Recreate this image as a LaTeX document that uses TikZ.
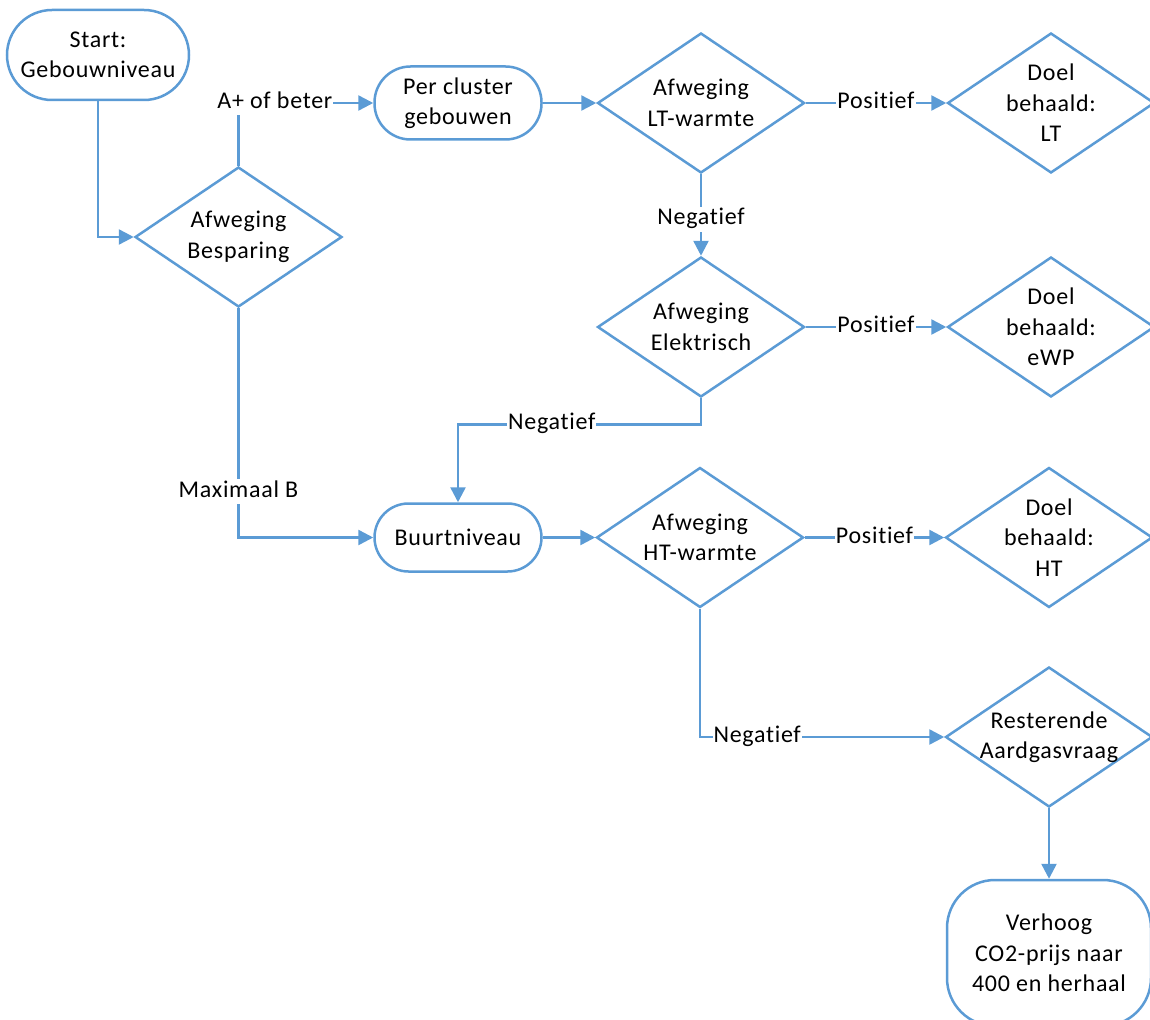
\documentclass[tikz,border=0pt]{standalone}
\usepackage{fontspec}
\setmainfont{Carlito}[Ligatures=NoCommon, LetterSpace=3]
\usetikzlibrary{shapes.geometric,arrows.meta}
\definecolor{flowblue}{RGB}{91,155,213}
\begin{document}
\begin{tikzpicture}[x=1pt,y=-1pt,
  every node/.style={font=\fontsize{24}{30.5}\selectfont},
  line/.style={draw=flowblue, line width=2.5pt},
  flow/.style={line, -{Triangle[length=15pt,width=15pt]}},
  terminal/.style={draw=flowblue, line width=2.5pt, rectangle, fill=white,
    align=center, inner sep=0pt},
  decision/.style={draw=flowblue, line width=2.5pt, diamond, fill=white,
    minimum width=207pt, minimum height=140pt, inner sep=0pt},
  dtext/.style={align=center, inner sep=0pt},
  tag/.style={fill=white, inner sep=1pt, text height=17pt, text depth=6pt}
]
\useasboundingbox (0,0) rectangle (1150,1019);
\clip (0,0) rectangle (1150,1019);

% terminals
\node[terminal, rounded corners=45pt, minimum width=182pt, minimum height=90pt]
  (start) at (98,55) {Start:\\Gebouwniveau};
\node[terminal, rounded corners=36pt, minimum width=167pt, minimum height=73pt]
  (clus) at (458,103) {Per cluster\\gebouwen};
\node[terminal, rounded corners=34pt, minimum width=167pt, minimum height=68pt]
  (buurt) at (458,537.5) {Buurtniveau};
\node[terminal, rounded corners=48pt, minimum width=204pt, minimum height=146pt]
  (verh) at (1049,953) {Verhoog\\CO2-prijs naar\\400 en herhaal};

% decisions
\node[decision, label={[dtext]center:{Afweging\\Besparing}}] (bes) at (238.5,237) {};
\node[decision, label={[dtext]center:{Afweging\\LT-warmte}}] (lt) at (701,103) {};
\node[decision, label={[dtext]center:{Doel\\behaald:\\LT}}] (dlt) at (1051,103) {};
\node[decision, label={[dtext]center:{Afweging\\Elektrisch}}] (el) at (701,327) {};
\node[decision, label={[dtext]center:{Doel\\behaald:\\eWP}}] (dewp) at (1051,327) {};
\node[decision, label={[dtext]center:{Afweging\\HT-warmte}}] (ht) at (700,537.5) {};
\node[decision, label={[dtext]center:{Doel\\behaald:\\HT}}] (dht) at (1049,537.5) {};
\node[decision, label={[dtext]center:{Resterende\\Aardgasvraag}}] (rest) at (1049,737) {};

% connectors
\draw[flow] (start.south) |- (bes.west);
\draw[flow] (bes.north) |- node[tag, pos=0.635] {A+ of beter} (clus.west);
\draw[flow] (bes.south) |- node[tag, pos=0.4] {Maximaal B} (buurt.west);
\draw[flow] (clus.east) -- (lt.west);
\draw[flow] (lt.east) -- node[tag] {Positief} (dlt.west);
\draw[flow] (lt.south) -- node[tag, pos=0.55] {Negatief} (el.north);
\draw[flow] (el.east) -- node[tag] {Positief} (dewp.west);
\draw[flow] (el.south) -- ++(0,26) -| node[tag, pos=0.307] {Negatief} (buurt.north);
\draw[flow] (buurt.east) -- (ht.west);
\draw[flow] (ht.east) -- node[tag] {Positief} (dht.west);
\draw[flow] (ht.south) |- node[tag, pos=0.617] {Negatief} (rest.west);
\draw[flow] (rest.south) -- (verh.north);
\end{tikzpicture}
\end{document}
